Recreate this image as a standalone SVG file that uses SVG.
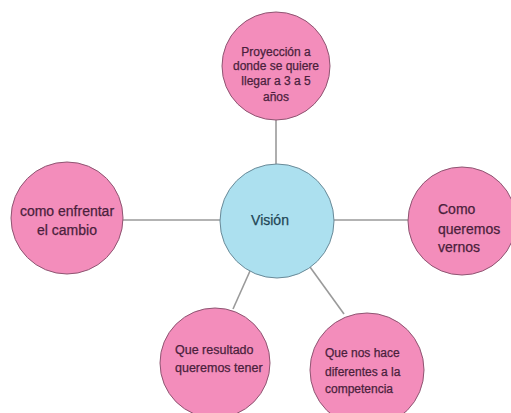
<svg xmlns="http://www.w3.org/2000/svg" width="511" height="413" viewBox="0 0 511 413">
<style>
.pk{fill:#f38dbb;stroke:#8e5572;stroke-width:1}
.bl{fill:#ace0ef;stroke:#6a8a98;stroke-width:1}
.t{font-family:"Liberation Sans",Arial,sans-serif;fill:#4a1f3c;stroke:#4a1f3c;stroke-width:0.25}
.c{stroke:#9a9a9a;stroke-width:1.6;fill:none}
</style>
<rect width="511" height="413" fill="#ffffff"/>
<g id="connectors">
<line class="c" x1="276" y1="120" x2="276" y2="164"/>
<line class="c" x1="123" y1="220" x2="220" y2="220"/>
<line class="c" x1="334" y1="220" x2="409" y2="220"/>
<line class="c" x1="250" y1="271" x2="233" y2="309"/>
<line class="c" x1="310" y1="267" x2="344" y2="314"/>
</g>
<g id="vision">
<circle class="bl" cx="277" cy="221" r="57"/>
<text class="t" x="270" y="225" font-size="14" text-anchor="middle" style="fill:#1f4656;stroke:#1f4656">Visión</text>
</g>
<g id="proyeccion">
<circle class="pk" cx="276" cy="66" r="54"/>
<text class="t" font-size="12" text-anchor="middle"><tspan x="276" y="56">Proyección a</tspan><tspan x="276" y="70">donde se quiere</tspan><tspan x="276" y="85">llegar a 3 a 5</tspan><tspan x="276" y="101">años</tspan></text>
</g>
<g id="enfrentar">
<circle class="pk" cx="67" cy="218" r="56"/>
<text class="t" font-size="14" text-anchor="middle"><tspan x="67" y="216">como enfrentar</tspan><tspan x="67" y="235">el cambio</tspan></text>
</g>
<g id="vernos">
<circle class="pk" cx="462" cy="221" r="54"/>
<text class="t" font-size="14"><tspan x="438" y="214">Como</tspan><tspan x="438" y="234">queremos</tspan><tspan x="438" y="252">vernos</tspan></text>
</g>
<g id="resultado">
<circle class="pk" cx="215" cy="363" r="55"/>
<text class="t" font-size="12.5"><tspan x="175" y="354">Que resultado</tspan><tspan x="175" y="372">queremos tener</tspan></text>
</g>
<g id="diferentes">
<circle class="pk" cx="367" cy="370" r="57"/>
<text class="t" font-size="12"><tspan x="325" y="357">Que nos hace</tspan><tspan x="325" y="376">diferentes a la</tspan><tspan x="325" y="393">competencia</tspan></text>
</g>
</svg>
